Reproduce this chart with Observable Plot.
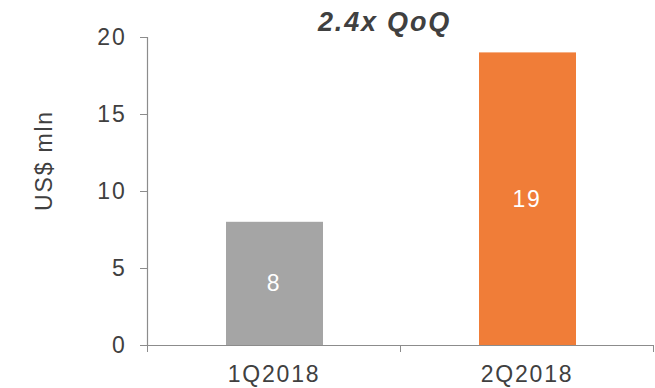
<!DOCTYPE html>
<html><head><meta charset="utf-8">
<script src="https://cdn.jsdelivr.net/npm/d3@7"></script>
<script src="https://cdn.jsdelivr.net/npm/@observablehq/plot@0.6"></script>
<style>
body{margin:0;background:#fff}
svg text{font-family:"Liberation Sans",Arial,sans-serif;letter-spacing:1.8px}
</style></head><body><div id="chart"></div>
<script>
const categories = ["1Q2018", "2Q2018"];
const values = [8, 19];
const barColors = ["#A5A5A5", "#F07D38"];
const yTicks = [0, 5, 10, 15, 20];
const title = "2.4x QoQ";
const yLabel = "US$ mln";

const data = categories.map((c, i) => ({category: c, index: i, value: values[i], color: barColors[i]}));

const chart = Plot.plot({
  width: 655, height: 388,
  marginTop: 37, marginBottom: 43, marginLeft: 147, marginRight: 2,
  style: {fontFamily: "'Liberation Sans', Arial, sans-serif", fontSize: "23px", color: "#404040", background: "#fff"},
  x: {type: "linear", domain: [0, categories.length], axis: null},
  y: {domain: [0, 20], axis: null},
  marks: [
    Plot.rectY(data, {x1: "index", x2: d => d.index + 1, y1: 0, y2: "value", fill: "color", insetLeft: 79, insetRight: 77}),
    Plot.text(data, {x: d => d.index + 0.5, y: d => d.value / 2, text: d => String(d.value), fill: "white", fontSize: 23}),
    Plot.ruleX([0], {stroke: "#8c8c8c", strokeWidth: 1.2}),
    Plot.ruleY([0], {stroke: "#8c8c8c", strokeWidth: 1.2}),
    Plot.axisY({ticks: yTicks, tickSize: 7, tickPadding: 14, label: null, stroke: "#8c8c8c", fill: "#404040", strokeOpacity: 1, fontSize: 23}),
    Plot.axisX({ticks: d3.range(categories.length + 1), tickSize: 7, tickFormat: () => "", label: null, stroke: "#8c8c8c", strokeOpacity: 1}),
    Plot.axisX({ticks: categories.map((c, i) => i + 0.5), tickSize: 0, tickPadding: 20, tickFormat: t => categories[Math.floor(t)], label: null, fill: "#404040", fontSize: 23}),
    Plot.text([title], {frameAnchor: "top", dy: -26, dx: -16, fontWeight: "bold", fontStyle: "italic", fontSize: 27, fill: "#404040", text: d => d}),
    Plot.text([yLabel], {frameAnchor: "left", textAnchor: "middle", rotate: -90, dx: -103, dy: -31, fontSize: 23, fill: "#404040", text: d => d})
  ]
});
document.getElementById("chart").appendChild(chart);
</script></body></html>
